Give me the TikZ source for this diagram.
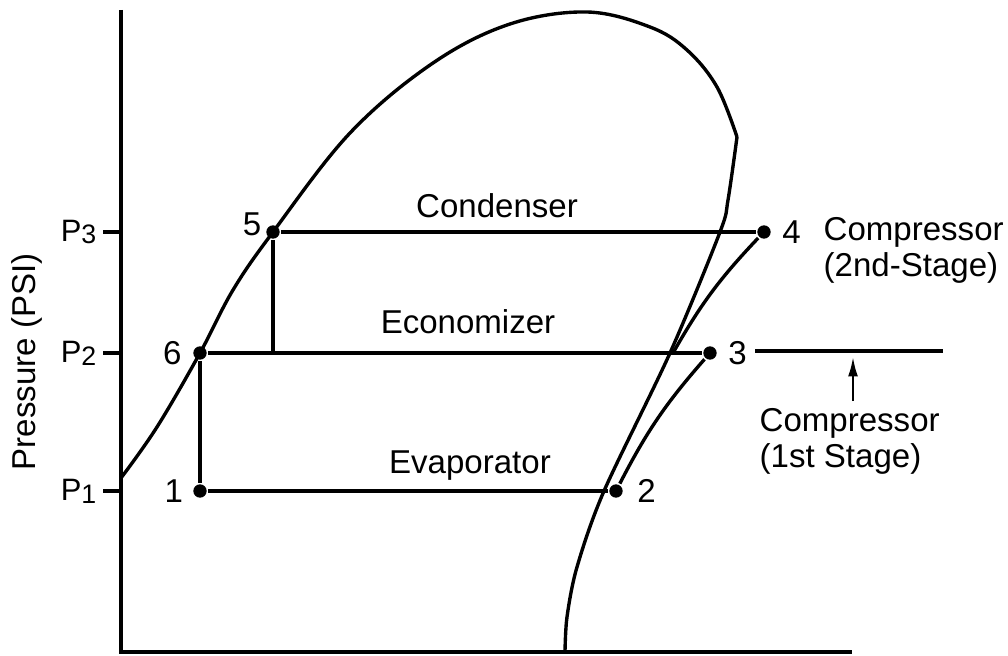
\documentclass[tikz,border=0pt]{standalone}
\usepackage{fontspec}
\setmainfont{Liberation Sans}
\usetikzlibrary{calc,positioning,arrows.meta}

\newcommand{\plab}[1]{{\fontsize{22}{24}\selectfont P\raisebox{-2pt}{\fontsize{19}{20}\selectfont #1}}}

\begin{document}
\begin{tikzpicture}[
			x=0.025cm, y=-0.025cm,
			line width=2.4pt,
			dot/.style={
				circle,
				fill,
				inner sep=0pt,
				minimum size=9.5pt
			},
			lbl/.style={
				inner sep=0pt,
				font=\fontsize{23.5}{26}\selectfont
			}
			]
			\useasboundingbox (0,0) rectangle (1008,656);
			
			% axes
			\coordinate (top) at (121,10);
			\coordinate (O) at (121,652);
			\coordinate (xend) at (852,652);
			\draw (top) -- (O) -- (xend);
			\node[lbl,rotate=90] (ylab) at (27,362) {Pressure (PSI)};
			
			% pressure levels
			\foreach \i/\y in {1/491,2/353,3/232}{
				\draw (103,\y) -- (121,\y);
				\node[anchor=east,inner sep=0pt] (P\i) at (98,\y) {\plab{\i}};
			}
			
			% saturation dome
			\draw plot[smooth,tension=0.6] coordinates {
				(121,478) (157,427) (200,353) (233,290) (273,232) (350,133)
				(433,63) (510,24) (587,12) (650,27) (687,50) (717,87) (737,137)};
			\draw plot[smooth,tension=0.5] coordinates {
				(737,137) (728,200) (720,232) (670,353) (604,491)
				(577,567) (567,617) (565,652)};
			
			% state points
			\node[dot] (p1) at (200,491) {};
			\node[dot] (p2) at (616,491) {};
			\node[dot] (p3) at (710,353) {};
			\node[dot] (p4) at (764,232) {};
			\node[dot] (p5) at (273,232) {};
			\node[dot] (p6) at (200,353) {};
			\coordinate (mix) at (673,353);
			
			\node[lbl,left=5pt of p1] (n1) {1};
			\node[lbl,right=8pt of p2] (n2) {2};
			\node[lbl,right=6pt of p3] (n3) {3};
			\node[lbl,right=6pt of p4] (n4) {4};
			\node[lbl] (n5) at (252,224) {5};
			\node[lbl,left=6pt of p6] (n6) {6};
			
			% cycle
			\draw (p5) -- (p4);
			\draw (p6) -- (p3);
			\draw (p1) -- (p2);
			\draw (p6) -- (p1);
			\draw (p5) -- (p5 |- p6);
			\draw (p2) to[bend left=7] (p3);
			\draw (mix) to[bend left=7] (p4);
			
			\node[lbl,anchor=base] (cond) at (497,218) {Condenser};
			\node[lbl,anchor=base] (econ) at (468,333) {Economizer};
			\node[lbl,anchor=base] (evap) at (470,473) {Evaporator};
			
			% compressor stages
			\node[lbl,anchor=base west] (comp2) at (822,241) {Compressor};
			\node[lbl,anchor=base west] (stage2) at (822,277) {(2nd-Stage)};
			
			\coordinate (s1a) at (755,351);
			\coordinate (s1b) at (943,351);
			\draw (s1a) -- (s1b);
			\node[lbl,anchor=base west] (comp1) at (758,431) {Compressor};
			\node[lbl,anchor=base west] (stage1) at (758,467) {(1st Stage)};
			\coordinate (tail) at (853,401);
			\draw[-{Latex[length=14pt,width=7pt]},line width=1.8pt,shorten >=4pt] (tail) -- (tail |- s1a);
			
		\end{tikzpicture}
\end{document}
